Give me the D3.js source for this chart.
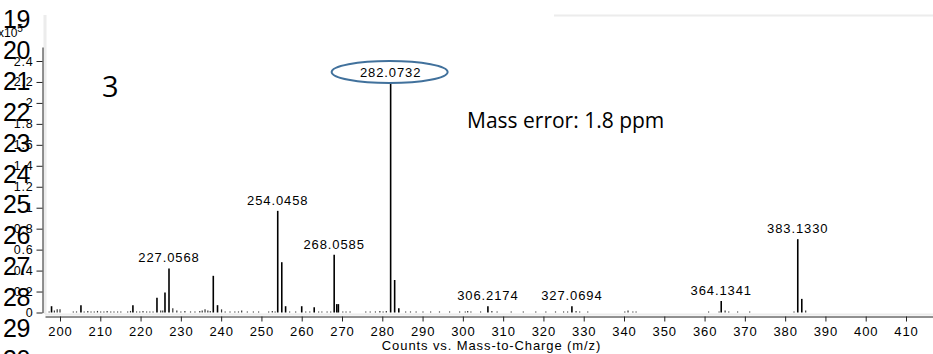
<!DOCTYPE html>
<html>
<head>
<meta charset="utf-8">
<script src="https://cdn.jsdelivr.net/npm/d3@7"></script>
<style>
  body { margin: 0; background: #fff; }
  svg { display: block; }
  .tick text { fill: #000; }
</style>
</head>
<body>
<div class="chart"></div>
<script>
// Data (counts in units of 1e5)
const majorMz = [197.9, 205.2, 218.1, 224.07, 226.06, 227.0568, 238.05, 239.1, 254.0458, 255.05,
  256.0, 260.0, 263.1, 268.0585, 268.7, 269.1, 282.0732, 283.07, 284.1, 306.2174,
  327.0694, 364.1341, 383.1330, 384.13]
const majorCounts = [0.06, 0.07, 0.07, 0.14, 0.19, 0.42, 0.35, 0.07, 0.97, 0.48,
  0.06, 0.06, 0.05, 0.55, 0.08, 0.08, 2.19, 0.31, 0.04, 0.06,
  0.06, 0.11, 0.70, 0.13]

const minorMz = [197.3, 198.6, 199.3, 200.0, 203.3, 204.1, 206.0, 206.9, 207.7, 208.5,
  209.3, 210.1, 210.9, 211.7, 212.6, 213.4, 214.3, 215.1, 216.8, 217.5,
  219.0, 219.8, 220.6, 221.5, 222.3, 223.1, 225.0, 225.5, 228.0, 229.0,
  230.0, 231.0, 232.4, 233.5, 234.7, 235.3, 236.0, 236.7, 237.3, 240.1,
  241.0, 242.2, 243.4, 244.3, 245.1, 246.5, 248.0, 249.3, 251.8, 252.7,
  253.4, 257.0, 258.5, 261.0, 262.0, 264.2, 265.0, 266.3, 267.2, 270.2,
  271.0, 272.0, 275.9, 277.0, 278.3, 279.4, 280.2, 281.0, 285.8, 287.0,
  288.4, 290.1, 292.0, 294.2, 296.7, 299.2, 300.6, 301.2, 302.0, 304.4,
  307.2, 308.5, 312.0, 315.0, 318.1, 320.6, 323.0, 325.0, 326.0, 328.1,
  329.0, 331.0, 340.2, 341.0, 342.2, 343.0, 361.0, 363.6, 365.1, 366.0,
  368.2, 371.2, 382.2, 385.1]
const minorCounts = [0.01, 0.02, 0.03, 0.03, 0.01, 0.01, 0.01, 0.015, 0.01, 0.01,
  0.015, 0.01, 0.01, 0.015, 0.01, 0.01, 0.01, 0.01, 0.01, 0.015,
  0.01, 0.01, 0.015, 0.01, 0.01, 0.01, 0.02, 0.02, 0.04, 0.02,
  0.01, 0.015, 0.01, 0.01, 0.015, 0.02, 0.03, 0.02, 0.015, 0.03,
  0.01, 0.01, 0.01, 0.01, 0.02, 0.01, 0.01, 0.01, 0.01, 0.015,
  0.01, 0.01, 0.01, 0.01, 0.01, 0.01, 0.01, 0.01, 0.01, 0.01,
  0.01, 0.01, 0.01, 0.01, 0.01, 0.015, 0.01, 0.015, 0.01, 0.01,
  0.01, 0.01, 0.01, 0.01, 0.01, 0.01, 0.01, 0.015, 0.01, 0.01,
  0.015, 0.01, 0.01, 0.01, 0.01, 0.01, 0.01, 0.01, 0.01, 0.015,
  0.01, 0.01, 0.01, 0.02, 0.01, 0.01, 0.01, 0.01, 0.02, 0.01,
  0.01, 0.01, 0.01, 0.02]

const labelMz = [227.0568, 254.0458, 268.0585, 282.0732, 306.2174, 327.0694, 364.1341, 383.1330]
const circledMz = 282.0732

const xTicks = [200, 210, 220, 230, 240, 250, 260, 270, 280, 290, 300, 310, 320, 330, 340, 350, 360, 370, 380, 390, 400, 410]
const yTicks = [0, 0.2, 0.4, 0.6, 0.8, 1, 1.2, 1.4, 1.6, 1.8, 2, 2.2, 2.4]
const lineNumbers = [19, 20, 21, 22, 23, 24, 25, 26, 27, 28, 29, 30]

// Dimensions
const width = 933
const height = 354

const svg = d3.select('.chart')
  .append('svg')
  .attr('width', width)
  .attr('height', height)

// Scales
const xScale = d3.scaleLinear()
  .domain([200, 410])
  .range([60, 906])
const xAxisScale = xScale.copy()
  .domain([xScale.invert(45), xScale.invert(940)])
  .range([45, 940])

const yScale = d3.scaleLinear()
  .domain([0, 2.4])
  .range([312.5, 61])
const yAxisScale = yScale.copy()
  .domain([0, yScale.invert(47)])
  .range([312.5, 47])

// light gray frame (from the pasted figure)
const frame = svg.append('g')
  .attr('stroke', '#ececec')
  .attr('fill', 'none')
frame.append('line').attr('x1', 45).attr('x2', 45).attr('y1', 15).attr('y2', 314).attr('stroke-width', 3)
frame.append('line').attr('x1', 45).attr('x2', 933).attr('y1', 314.5).attr('y2', 314.5).attr('stroke-width', 2)
frame.append('line').attr('x1', 554).attr('x2', 933).attr('y1', 15.5).attr('y2', 15.5).attr('stroke-width', 2)

// Axes
const xAxis = d3.axisBottom(xAxisScale)
  .tickValues(xTicks)
  .tickSize(5)
  .tickSizeOuter(0)
  .tickPadding(5)
  .tickFormat(d3.format('d'))

svg.append('g')
  .attr('transform', 'translate(0, 316.5)')
  .call(xAxis)
  .call(g => g.selectAll('text')
    .style('font-family', '"Liberation Sans", Arial, sans-serif')
    .style('font-size', '13px')
    .style('letter-spacing', '0.9px'))
  .call(g => g.selectAll('path, line').attr('stroke', '#222'))

const yAxis = d3.axisLeft(yAxisScale)
  .tickValues(yTicks)
  .tickSize(6)
  .tickSizeOuter(0)
  .tickPadding(3)
  .tickFormat(d3.format('~g'))

svg.append('g')
  .attr('transform', 'translate(42.5, 0)')
  .call(yAxis)
  .call(g => g.selectAll('text')
    .style('font-family', '"Liberation Sans", Arial, sans-serif')
    .style('font-size', '12.5px')
    .style('letter-spacing', '0.8px'))
  .call(g => g.selectAll('path, line').attr('stroke', '#222'))

// exponent label
const expLabel = svg.append('text')
  .attr('x', -2)
  .attr('y', 37)
  .style('font-family', '"Liberation Sans", Arial, sans-serif')
  .style('font-size', '12px')
  .text('x10')
expLabel.append('tspan')
  .attr('dy', -5)
  .style('font-size', '10px')
  .text('5')

svg.append('text')
  .attr('x', width / 2 + 25)
  .attr('y', 350)
  .attr('text-anchor', 'middle')
  .style('font-family', '"Liberation Sans", Arial, sans-serif')
  .style('font-size', '13px')
  .style('letter-spacing', '0.9px')
  .text('Counts vs. Mass-to-Charge (m/z)')

// Draw peaks
const minor = minorMz.map((m, i) => ({ mz: m, count: minorCounts[i] }))
const major = majorMz.map((m, i) => ({ mz: m, count: majorCounts[i] }))

svg.append('g')
  .selectAll('line')
  .data(minor)
  .join('line')
  .attr('x1', d => xScale(d.mz))
  .attr('x2', d => xScale(d.mz))
  .attr('y1', yScale(0))
  .attr('y2', d => yScale(d.count))
  .attr('stroke', '#333')
  .attr('stroke-width', 1.2)

svg.append('g')
  .selectAll('line')
  .data(major)
  .join('line')
  .attr('x1', d => xScale(d.mz))
  .attr('x2', d => xScale(d.mz))
  .attr('y1', yScale(0))
  .attr('y2', d => yScale(d.count))
  .attr('stroke', '#000')
  .attr('stroke-width', 1.6)

// Peak labels
const labelled = labelMz.map(m => ({ mz: m, count: majorCounts[majorMz.indexOf(m)] }))

svg.append('g')
  .selectAll('text')
  .data(labelled)
  .join('text')
  .attr('x', d => xScale(d.mz))
  .attr('y', d => yScale(d.count) - 6)
  .attr('text-anchor', 'middle')
  .style('font-family', '"Liberation Sans", Arial, sans-serif')
  .style('font-size', '13px')
  .style('letter-spacing', '0.9px')
  .text(d => d3.format('.4f')(d.mz))

// ellipse around the base peak
const base = labelled.find(d => d.mz === circledMz)
svg.append('ellipse')
  .attr('cx', xScale(base.mz) - 1)
  .attr('cy', yScale(base.count) - 11)
  .attr('rx', 58)
  .attr('ry', 11)
  .attr('fill', 'none')
  .attr('stroke', '#41719c')
  .attr('stroke-width', 2)

// annotations
svg.append('text')
  .attr('x', 102)
  .attr('y', 97)
  .style('font-family', '"Open Sans", sans-serif')
  .style('font-size', '29px')
  .text('3')

svg.append('text')
  .attr('x', 467)
  .attr('y', 128)
  .style('font-family', '"Open Sans", sans-serif')
  .style('font-size', '21px')
  .text('Mass error: 1.8 ppm')

// line numbers of the source document
const lineY = d3.scaleLinear()
  .domain([19, 29])
  .range([28, 337])

svg.append('g')
  .selectAll('text')
  .data(lineNumbers)
  .join('text')
  .attr('x', 3)
  .attr('y', d => lineY(d))
  .style('font-family', '"Liberation Sans", Arial, sans-serif')
  .style('font-size', '25px')
  .style('letter-spacing', '-0.5px')
  .text(d => d)
</script>
</body>
</html>
